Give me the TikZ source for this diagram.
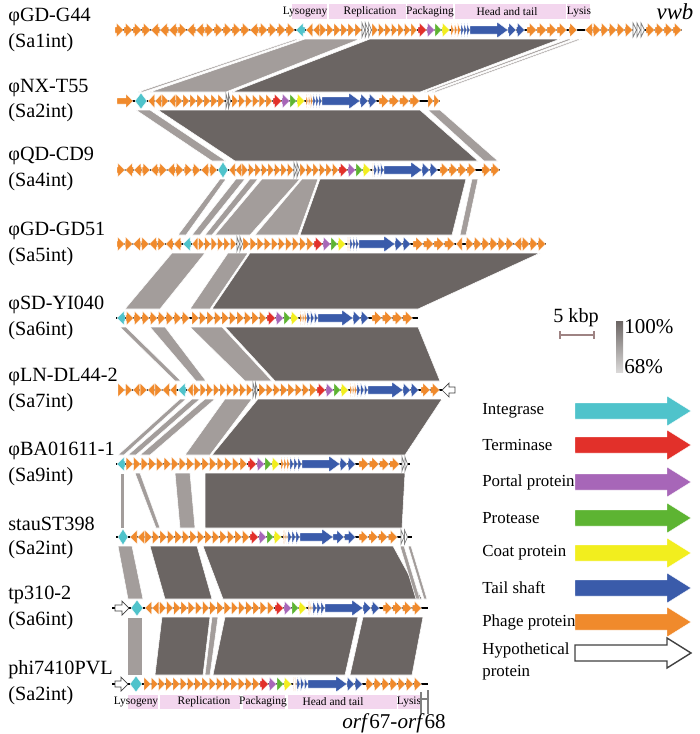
\documentclass[tikz,border=0pt]{standalone}
\usepackage{fontspec}
\setmainfont{Liberation Serif}
\usetikzlibrary{positioning}
\definecolor{integc}{HTML}{4FC3CB}
\definecolor{termc}{HTML}{E2302A}
\definecolor{portc}{HTML}{A766B8}
\definecolor{protc}{HTML}{5DB432}
\definecolor{coatc}{HTML}{F2EE1E}
\definecolor{tailc}{HTML}{3A5BAA}
\definecolor{phagec}{HTML}{F08A2C}
\definecolor{simdark}{HTML}{6B6563}
\definecolor{simlight}{HTML}{A39D9B}
\definecolor{modpink}{HTML}{F3D6EE}
\tikzset{orf/.style = {fill=phagec, draw=white, line width=0.2pt},
         orfint/.style = {fill=integc, draw=white, line width=0.2pt},
         orfterm/.style = {fill=termc, draw=white, line width=0.2pt},
         orfport/.style = {fill=portc, draw=white, line width=0.2pt},
         orfprot/.style = {fill=protc, draw=white, line width=0.2pt},
         orfcoat/.style = {fill=coatc, draw=white, line width=0.2pt},
         orftail/.style = {fill=tailc, draw=white, line width=0.2pt},
         orfhypo/.style = {fill=white, draw=black!75, line width=0.4pt},
         orfgray/.style = {fill=white, draw=gray, line width=0.4pt},
         trk/.style = {line width=1pt},
         simd/.style = {fill=simdark, draw=white, line width=0.3pt},
         siml/.style = {fill=simlight, draw=white, line width=0.3pt},
         modbox/.style = {fill=modpink},
         modtxt/.style = {inner sep=0, font=\fontsize{6.5}{7}\selectfont},
         lab/.style = {anchor=west, inner sep=0, font=\fontsize{11.5}{13}\selectfont},
         legtxt/.style = {anchor=west, inner sep=0, align=left, font=\fontsize{9.6}{12.5}\selectfont}}
\newcommand\orfr[4][orf]{\pgfmathsetmacro\hx{max(#2,#3-7)}%
  \path[#1] (#2,#4-3) -- (\hx,#4-3) -- (\hx,#4-7) -- (#3,#4) -- (\hx,#4+7) -- (\hx,#4+3) -- (#2,#4+3) -- cycle;}
\newcommand\orfl[4][orf]{\pgfmathsetmacro\hx{min(#3,#2+7)}%
  \path[#1] (#3,#4-3) -- (\hx,#4-3) -- (\hx,#4-7) -- (#2,#4) -- (\hx,#4+7) -- (\hx,#4+3) -- (#3,#4+3) -- cycle;}
\newcommand\orfd[4][orfint]{\pgfmathsetmacro\mx{(#2+#3)/2}%
  \path[#1] (#2,#4) -- (\mx,#4-8) -- (#3,#4) -- (\mx,#4+8) -- cycle;}
\newcommand\orfrun[5][orf]{\foreach \d [count=\k] in {#5} {%
  \pgfmathsetmacro\xa{#3+(\k-1)*(#4)}\pgfmathsetmacro\xb{\xa+(#4)-0.5}%
  \if\d r\orfr[#1]{\xa}{\xb}{#2}\else\orfl[#1]{\xa}{\xb}{#2}\fi}}
\newcommand\cass[6]{\orfr[orfterm]{#2}{#2+8.5}{#1}\orfr[orfport]{#2+9}{#2+16.5}{#1}%
  \orfr[orfprot]{#2+17}{#2+23.5}{#1}\orfr[orfcoat]{#2+24}{#2+31.5}{#1}%
  \orfrun{#1}{#2+33}{(#3-#2-33)/3}{r,r,r}\orfrun[orftail]{#1}{#3}{(#4-#3)/3}{r,r,r}%
  \path[orftail] (#4,#1-4) -- (#5-11,#1-4) -- (#5-11,#1-8) -- (#5,#1) -- (#5-11,#1+8) -- (#5-11,#1+4) -- (#4,#1+4) -- cycle;%
  \orfrun[orftail]{#1}{#5}{(#6-#5)/2}{r,r}}
\newcommand\band[7][simd]{\path[#1] (#2,#4) -- (#3,#4) -- (#6,#7) -- (#5,#7) -- cycle;}
\newcommand\legarr[2]{\path[#1] (575,#2-8) -- (667,#2-8) -- (667,#2-15) -- (691,#2) -- (667,#2+15) -- (667,#2+8) -- (575,#2+8) -- cycle;}

\begin{document}
\begin{tikzpicture}[x=0.02cm, y=-0.02cm]
  \useasboundingbox (0,0) rectangle (700,734);
  \band[siml]{296}{300}{39}{138}{143}{92}
  \band[siml]{305}{360}{39}{150}{226}{92}
  \band{370}{560}{39}{232}{420}{92}
  \band[siml]{568}{573}{39}{424}{428}{92}
  \band[siml]{578}{582}{39}{432}{436}{92}
  \band[siml]{136}{150}{110}{212}{226}{161}
  \band{158}{420}{110}{235}{478}{161}
  \band[siml]{428}{440}{110}{484}{498}{161}
  \band[siml]{220}{226}{179}{178}{186}{235}
  \band[siml]{236}{245}{179}{192}{200}{235}
  \band[siml]{250}{258}{179}{205}{212}{235}
  \band[siml]{262}{300}{179}{215}{250}{235}
  \band[siml]{302}{318}{179}{255}{298}{235}
  \band{320}{466}{179}{300}{452}{235}
  \band[siml]{472}{478}{179}{460}{466}{235}
  \band[siml]{172}{205}{253}{125}{160}{309}
  \band[siml]{228}{248}{253}{190}{210}{309}
  \band{250}{540}{253}{212}{418}{309}
  \band[siml]{120}{126}{327}{175}{181}{381}
  \band[siml]{150}{165}{327}{196}{206}{381}
  \band[siml]{190}{222}{327}{245}{272}{381}
  \band{225}{418}{327}{275}{440}{381}
  \band[siml]{180}{186}{399}{118}{124}{455}
  \band[siml]{192}{200}{399}{128}{136}{455}
  \band[siml]{205}{215}{399}{140}{150}{455}
  \band[siml]{225}{252}{399}{185}{210}{455}
  \band{258}{442}{399}{212}{405}{455}
  \band[siml]{120}{124}{473}{120}{124}{528}
  \band[siml]{135}{140}{473}{156}{160}{528}
  \band[siml]{175}{190}{473}{180}{195}{528}
  \band{205}{405}{473}{205}{402}{528}
  \band[siml]{118}{132}{546}{128}{143}{599}
  \band{150}{197}{546}{165}{212}{599}
  \band{203}{393}{546}{223}{422}{599}
  \band[siml]{400}{404}{546}{416}{420}{599}
  \band[siml]{408}{411}{546}{424}{427}{599}
  \band[siml]{127}{142}{617}{127}{142}{675}
  \band{162}{210}{617}{155}{203}{675}
  \band[siml]{212}{218}{617}{205}{210}{675}
  \band{225}{358}{617}{213}{345}{675}
  \band{363}{423}{617}{350}{412}{675}

  \draw[trk] (115,30) -- (682,30);
  \orfrun{30}{115}{9}{r,r,r,r,l,l,l,r,l,l,r,r,r,r,r,l,r,r,r,r}
  \orfl[orfint]{296}{305}{30}
  \orfrun{30}{306}{7}{l,l,r,r,r,r,r,r}
  \orfrun[orfgray]{30}{362}{3.3}{r,r,r}
  \orfrun{30}{372}{6.5}{r,r,r,r,r,r,r}
  \cass{30}{418}{461}{470}{508}{525}
  \orfrun{30}{527}{10}{r,r,r,r}
  \orfr{569}{577}{30}
  \orfrun{30}{585}{8}{l,r,r,r,r,r}
  \orfrun[orfgray]{30}{633}{4}{r,r,r}
  \orfrun{30}{646}{9}{r,r,r,r}

  \draw[trk] (117,101) -- (440,101);
  \orfr{117}{133}{101}
  \orfd{135}{147}{101}
  \orfrun{101}{148}{7}{l,l,r,l,r,r,r,r,r,r,r}
  \orfrun[orfgray]{101}{226}{2.5}{r,r}
  \orfrun{101}{232}{6.8}{r,r,r,r,r,r}
  \cass{101}{273}{313}{322}{360}{377}
  \orfrun{101}{379}{10.3}{r,r,r,r}
  \orfrun{101}{428}{6}{r,r}

  \draw[trk] (117,170) -- (500,170);
  \orfrun{170}{117}{8.4}{r,l,l,r,l,r,l,r,r,r,l,r}
  \orfd{218}{228}{170}
  \orfrun{170}{229}{6.5}{l,l,r,r,r,r,r,r,r,r}
  \orfrun[orfgray]{170}{294}{3}{r,r}
  \orfrun{170}{300}{6.5}{r,r,r,r,r,r}
  \cass{170}{339}{374}{384}{422}{438}
  \orfrun{170}{440}{9}{r,r,r,r}
  \orfrun{170}{482}{9}{r,r}

  \draw[trk] (117,244) -- (546,244);
  \orfrun{244}{117}{8.1}{r,r,l,r,l,r,l,l}
  \orfl[orfint]{183}{191}{244}
  \orfrun{244}{192}{6.4}{l,r,r,r,r,r,r}
  \orfrun[orfgray]{244}{237}{3}{r,r}
  \orfrun{244}{243}{7.1}{r,r,r,r,r,r,r,r,r,r}
  \cass{244}{314}{350}{359}{395}{411}
  \orfrun{244}{413}{10.5}{r,r,r,r}
  \orfl{456}{462}{244}
  \orfrun{244}{466}{8}{r,r,r,r,r,r,l,r,r,r}

  \draw[trk] (116,318) -- (418,318);
  \orfl[orfint]{117}{125}{318}
  \orfrun{318}{126}{8}{r,r,r,r,r,r,r,r}
  \orfrun{318}{192}{7.5}{r,r,r,r,r,r,r,r,r,r}
  \cass{318}{267}{307}{318}{353}{369}
  \orfrun{318}{372}{10.25}{r,r,r,r}

  \draw[trk] (118,390) -- (455,390);
  \orfrun{390}{118}{7.4}{r,r,l,r,l,r,l,l}
  \orfl[orfint]{178}{186}{390}
  \orfrun{390}{187}{6.6}{l,r,r,r,r,r,r,r,r,r}
  \orfrun[orfgray]{390}{253}{2.5}{r,r}
  \orfrun{390}{259}{7.25}{r,r,r,r,r,r,r,r}
  \cass{390}{317}{357}{368}{403}{419}
  \orfrun{390}{421}{9.5}{r,r}
  \orfl[orfhypo]{442}{455}{390}

  \draw[trk] (116,464) -- (410,464);
  \orfl[orfint]{117}{125}{464}
  \orfrun{464}{126}{7.6}{r,r,r,r,r,r,r,r,r,r,r,r,r,r,r,r}
  \cass{464}{248}{290}{302}{340}{356}
  \orfrun{464}{359}{10.25}{r,r,r,r}
  \orfrun[orfgray]{464}{402}{3}{r,r}

  \draw[trk] (116,537) -- (412,537);
  \orfd{118}{128}{537}
  \orfrun{537}{130}{7.5}{l,l,r,r,r,r,r,r,r,r,r,r,r,r,r,r}
  \cass{537}{250}{288}{300}{333}{356}
  \orfrun{537}{359}{9.75}{r,r,r,r}
  \orfrun[orfgray]{537}{401}{3.5}{r,r}

  \draw[trk] (112,608) -- (428,608);
  \orfr[orfhypo]{115}{129}{608}
  \orfd{131}{143}{608}
  \orfrun{608}{145}{7.2}{l,l,r,r,r,r,r,r,r,r,r,r,r,r,r,r,r,r}
  \cass{608}{275}{313}{325}{363}{380}
  \orfrun{608}{383}{9.75}{r,r,r,r}

  \draw[trk] (112,684) -- (428,684);
  \orfr[orfhypo]{115}{128}{684}
  \orfd{130}{142}{684}
  \orfrun{684}{144}{7.25}{r,r,r,r,r,r,r,r,r,r,r,r,r,r,r,r}
  \cass{684}{260}{297}{308}{347}{363}
  \orfrun{684}{366}{8}{r,r,r,r,r,r,r}

  \fill[modbox] (292,4) rectangle (327,19);
  \fill[modbox] (329,4) rectangle (406,19);
  \fill[modbox] (407,4) rectangle (453,19);
  \fill[modbox] (455,4) rectangle (566,19);
  \fill[modbox] (567,4) rectangle (590,19);
  \node[modtxt] (lysT) at (305,12) {Lysogeny};
  \node[modtxt] (repT) at (370,12) {Replication};
  \node[modtxt] (pacT) at (430,12) {Packaging};
  \node[modtxt] (hatT) at (507,12) {Head and tail};
  \node[modtxt] (lisT) at (579,12) {Lysis};
  \fill[modbox] (128,695) rectangle (158,709);
  \fill[modbox] (160,695) rectangle (240,709);
  \fill[modbox] (243,695) rectangle (285,709);
  \fill[modbox] (288,695) rectangle (397,709);
  \fill[modbox] (398,695) rectangle (420,709);
  \node[modtxt] (lysB) at (136,702) {Lysogeny};
  \node[modtxt] (repB) at (204,702) {Replication};
  \node[modtxt] (pacB) at (263,702) {Packaging};
  \node[modtxt] (hatB) at (333,702) {Head and tail};
  \node[modtxt] (lisB) at (409,702) {Lysis};
  \draw[gray, line width=0.6pt] (421,692) -- (421,714) (428,690) -- (428,714) (421,699) -- (428,699);
  \node[font=\fontsize{12}{14}\selectfont] (orfs) at (394,723) {\textit{orf}67-\textit{orf}68};
  \node[font=\itshape\fontsize{13}{15}\selectfont] (vwb) at (675,12) {vwb};

  \node[lab] (g1a) at (8,17) {φGD-G44};
  \node[lab] (g1b) at (8,43) {(Sa1int)};
  \node[lab] (g2a) at (8,88) {φNX-T55};
  \node[lab] (g2b) at (8,113) {(Sa2int)};
  \node[lab] (g3a) at (8,156) {φQD-CD9};
  \node[lab] (g3b) at (8,182) {(Sa4int)};
  \node[lab] (g4a) at (8,231) {φGD-GD51};
  \node[lab] (g4b) at (8,257) {(Sa5int)};
  \node[lab] (g5a) at (8,305) {φSD-YI040};
  \node[lab] (g5b) at (8,331) {(Sa6int)};
  \node[lab] (g6a) at (8,377) {φLN-DL44-2};
  \node[lab] (g6b) at (8,403) {(Sa7int)};
  \node[lab] (g7a) at (8,451) {φBA01611-1};
  \node[lab] (g7b) at (8,477) {(Sa9int)};
  \node[lab] (g8a) at (8,524) {stauST398};
  \node[lab] (g8b) at (8,550) {(Sa2int)};
  \node[lab] (g9a) at (8,595) {tp310-2};
  \node[lab] (g9b) at (8,621) {(Sa6int)};
  \node[lab] (g10a) at (8,670) {phi7410PVL};
  \node[lab] (g10b) at (8,696) {(Sa2int)};

  \node[font=\fontsize{11.5}{13}\selectfont] (kbp) at (576,318) {5 kbp};
  \draw[draw=black!30!pink!60!gray, line width=0.8pt] (560,335) -- (594,335) (560,331) -- (560,339) (594,331) -- (594,339);
  \shade[top color=simdark, bottom color=simdark!25] (616,321) rectangle (623,372);
  \node[legtxt, font=\fontsize{12}{14}\selectfont] (pmax) at (624,327) {100\%};
  \node[legtxt, font=\fontsize{12}{14}\selectfont] (pmin) at (624,367) {68\%};

  \node[legtxt] (lInt) at (482,411) {Integrase};
  \node[legtxt] (lTer) at (482,445) {Terminase};
  \node[legtxt] (lPor) at (482,482) {Portal protein};
  \node[legtxt] (lPro) at (482,518) {Protease};
  \node[legtxt] (lCoa) at (482,553) {Coat protein};
  \node[legtxt] (lTai) at (482,588) {Tail shaft};
  \node[legtxt] (lPha) at (482,622) {Phage protein};
  \node[legtxt] (lHyp) at (482,661) {Hypothetical\\protein};
  \legarr{orfint}{411}
  \legarr{orfterm}{445}
  \legarr{orfport}{482}
  \legarr{orfprot}{518}
  \legarr{orfcoat}{553}
  \legarr{orftail}{588}
  \legarr{orf}{622}
  \legarr{orfhypo, line width=0.8pt}{653}
\end{tikzpicture}
\end{document}
